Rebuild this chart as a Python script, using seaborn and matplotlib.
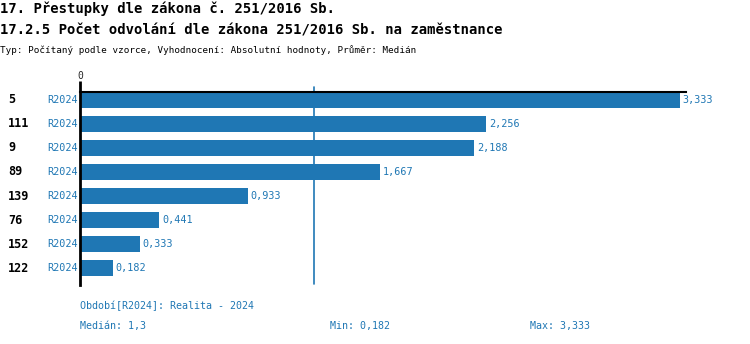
import matplotlib
matplotlib.use("Agg")
import matplotlib.pyplot as plt
import matplotlib.transforms as mtransforms
import seaborn as sns
import pandas as pd

categories = ["5", "111", "9", "89", "139", "76", "152", "122"]
period = ["R2024"] * 8
values = [3.333, 2.256, 2.188, 1.667, 0.933, 0.441, 0.333, 0.182]
value_labels = ["3,333", "2,256", "2,188", "1,667", "0,933", "0,441", "0,333", "0,182"]
median = 1.3

title1 = "17. Přestupky dle zákona č. 251/2016 Sb."
title2 = "17.2.5 Počet odvolání dle zákona 251/2016 Sb. na zaměstnance"
subtitle = "Typ: Počítaný podle vzorce, Vyhodnocení: Absolutní hodnoty, Průměr: Medián"
footer_period = "Období[R2024]: Realita - 2024"
footer_median = "Medián: 1,3"
footer_min = "Min: 0,182"
footer_max = "Max: 3,333"

BLUE = "#1f77b4"
sns.set_theme(style="white")
plt.rcParams['font.family'] = ['DejaVu Sans Mono', 'DejaVu Sans']

df = pd.DataFrame({"cat": categories, "val": values})

W, H = 750, 344
fig = plt.figure(figsize=(W / 100, H / 100), dpi=100)
ax = fig.add_axes([80 / W, 1 - 285 / H, 606 / W, (285 - 92) / H])

sns.barplot(data=df, x="val", y="cat", orient="h", color=BLUE, saturation=1,
            width=0.66, ax=ax, order=categories, linewidth=0, edgecolor="none")
ax.set_xlim(0, 3.366)
ax.set_ylim(7.708, -0.333)
ax.set_xlabel("")
ax.set_ylabel("")
ax.set_yticks([])
ax.set_xticks([0])
ax.set_xticklabels(["0"])
ax.xaxis.tick_top()
ax.tick_params(axis="x", which="both", top=True, bottom=False, length=8, width=2,
               color="black", pad=0, labelsize=7)
for s in ["right", "bottom"]:
    ax.spines[s].set_visible(False)
ax.spines["top"].set_visible(True)
ax.spines["top"].set_linewidth(1.5)
ax.spines["top"].set_color("black")
ax.spines["left"].set_linewidth(2)
ax.spines["left"].set_color("black")

ax.plot([median, median], [-0.55, 7.67], color=BLUE, lw=1.2, clip_on=False, zorder=1)

trans = mtransforms.blended_transform_factory(fig.transFigure, ax.transData)
for i, (c, p, v, lab) in enumerate(zip(categories, period, values, value_labels)):
    ax.text(8 / W, i, c, transform=trans, ha="left", va="center",
            fontsize=8.5, fontweight="bold", color="black")
    ax.text(78 / W, i, p, transform=trans, ha="right", va="center",
            fontsize=7.3, color=BLUE)
    ax.annotate(lab, (v, i), xytext=(2, 0), textcoords="offset points",
                ha="left", va="center", fontsize=7.3, color=BLUE, annotation_clip=False)

fig.text(0 / W, 1 - 9 / H, title1, ha="left", va="center", fontsize=10, fontweight="bold", color="black")
fig.text(0 / W, 1 - 30 / H, title2, ha="left", va="center", fontsize=10, fontweight="bold", color="black")
fig.text(0 / W, 1 - 50 / H, subtitle, ha="left", va="center", fontsize=6.7, color="black")

fig.text(80 / W, 1 - 306 / H, footer_period, ha="left", va="center", fontsize=7.2, color=BLUE)
fig.text(80 / W, 1 - 326 / H, footer_median, ha="left", va="center", fontsize=7.2, color=BLUE)
fig.text(330 / W, 1 - 326 / H, footer_min, ha="left", va="center", fontsize=7.2, color=BLUE)
fig.text(530 / W, 1 - 326 / H, footer_max, ha="left", va="center", fontsize=7.2, color=BLUE)

fig.savefig("out.png", dpi=100)
